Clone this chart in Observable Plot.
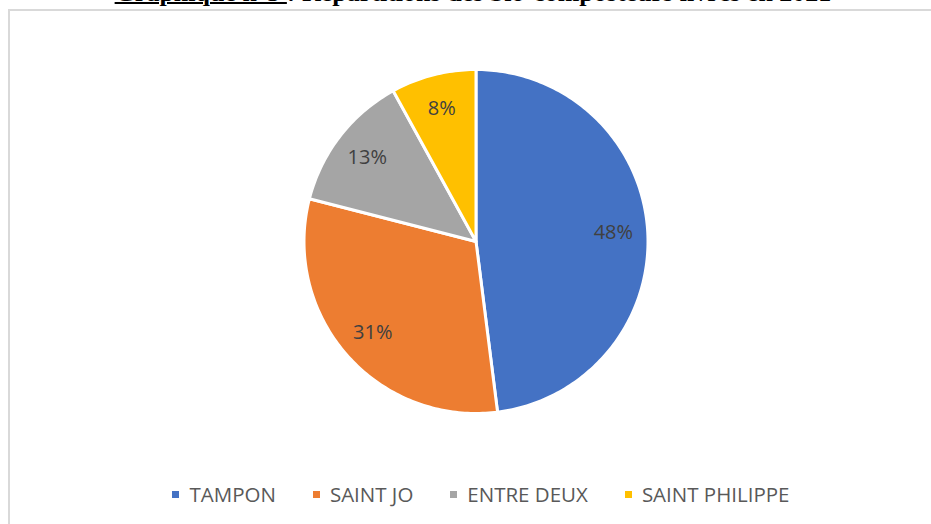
<!DOCTYPE html>
<html>
<head>
<meta charset="utf-8">
<script src="https://cdn.jsdelivr.net/npm/d3@7"></script>
<script src="https://cdn.jsdelivr.net/npm/@observablehq/plot@0.6"></script>
<style>
  html, body { margin: 0; padding: 0; background: #fff; width: 931px; height: 524px; overflow: hidden; position: relative; }
  #title { position: absolute; left: 0; width: 946px; top: -20px; text-align: center; font: bold 26px "Liberation Serif", "Times New Roman", serif; line-height: 26px; color: #000; white-space: nowrap; }
  #title u { text-decoration-thickness: 2px; }
  #frame { position: absolute; left: 8px; top: 9px; width: 1000px; height: 600px; border: 2px solid #d9d9d9; box-sizing: border-box; }
  #chart { position: absolute; left: 0; top: 0; }
  #legend { position: absolute; left: 0; width: 962px; top: 480px; display: flex; justify-content: center; gap: 37px; font: 20.5px "Open Sans", sans-serif; color: #595959; line-height: 28px; }
  .item { display: flex; align-items: center; gap: 10px; }
  .sw { width: 7px; height: 7px; display: inline-block; }
</style>
</head>
<body>
<div id="title"><u>Graphique n°3 </u>: Répartitions des bio-composteurs livrés en 2021</div>
<div id="frame"></div>
<div id="chart"></div>
<div id="legend"></div>
<script>
const categories = ["TAMPON", "SAINT JO", "ENTRE DEUX", "SAINT PHILIPPE"];
const values = [48, 31, 13, 8];
const palette = ["#4472C4", "#ED7D31", "#A5A5A5", "#FFC000"];

const data = categories.map((name, i) => ({name, value: values[i]}));
const total = d3.sum(values);
const arcs = d3.pie().sort(null).value(d => d.value)(data);

// slice outlines in unit-circle coordinates (angle clockwise from 12 o'clock)
const pts = [];
for (const a of arcs) {
  pts.push({name: a.data.name, x: 0, y: 0});
  const n = Math.max(2, Math.ceil((a.endAngle - a.startAngle) / (Math.PI / 180)));
  for (let k = 0; k <= n; k++) {
    const t = a.startAngle + (a.endAngle - a.startAngle) * k / n;
    pts.push({name: a.data.name, x: Math.sin(t), y: Math.cos(t)});
  }
}
const labels = arcs.map(a => {
  const m = (a.startAngle + a.endAngle) / 2;
  return {x: 0.8 * Math.sin(m), y: 0.8 * Math.cos(m), text: Math.round(a.data.value / total * 100) + "%"};
});

const W = 931, H = 480, cx = 475.5, cy = 241, R = 172;
const chart = Plot.plot({
  width: W,
  height: H,
  marginLeft: cx - R,
  marginRight: W - (cx + R),
  marginTop: cy - R,
  marginBottom: H - (cy + R),
  style: {background: "none", overflow: "visible"},
  x: {domain: [-1, 1], axis: null},
  y: {domain: [-1, 1], axis: null},
  color: {domain: categories, range: palette},
  marks: [
    Plot.line(pts, {x: "x", y: "y", z: "name", fill: "name", stroke: "white", strokeWidth: 3, strokeLinejoin: "round", curve: "linear-closed"}),
    Plot.text(labels, {x: "x", y: "y", text: "text", fill: "#404040", fontSize: 20, fontFamily: "Open Sans"})
  ]
});
document.getElementById("chart").appendChild(chart);

const legend = d3.select("#legend");
categories.forEach((c, i) => {
  const it = legend.append("div").attr("class", "item");
  it.append("span").attr("class", "sw").style("background", palette[i]);
  it.append("span").text(c);
});
</script>
</body>
</html>
